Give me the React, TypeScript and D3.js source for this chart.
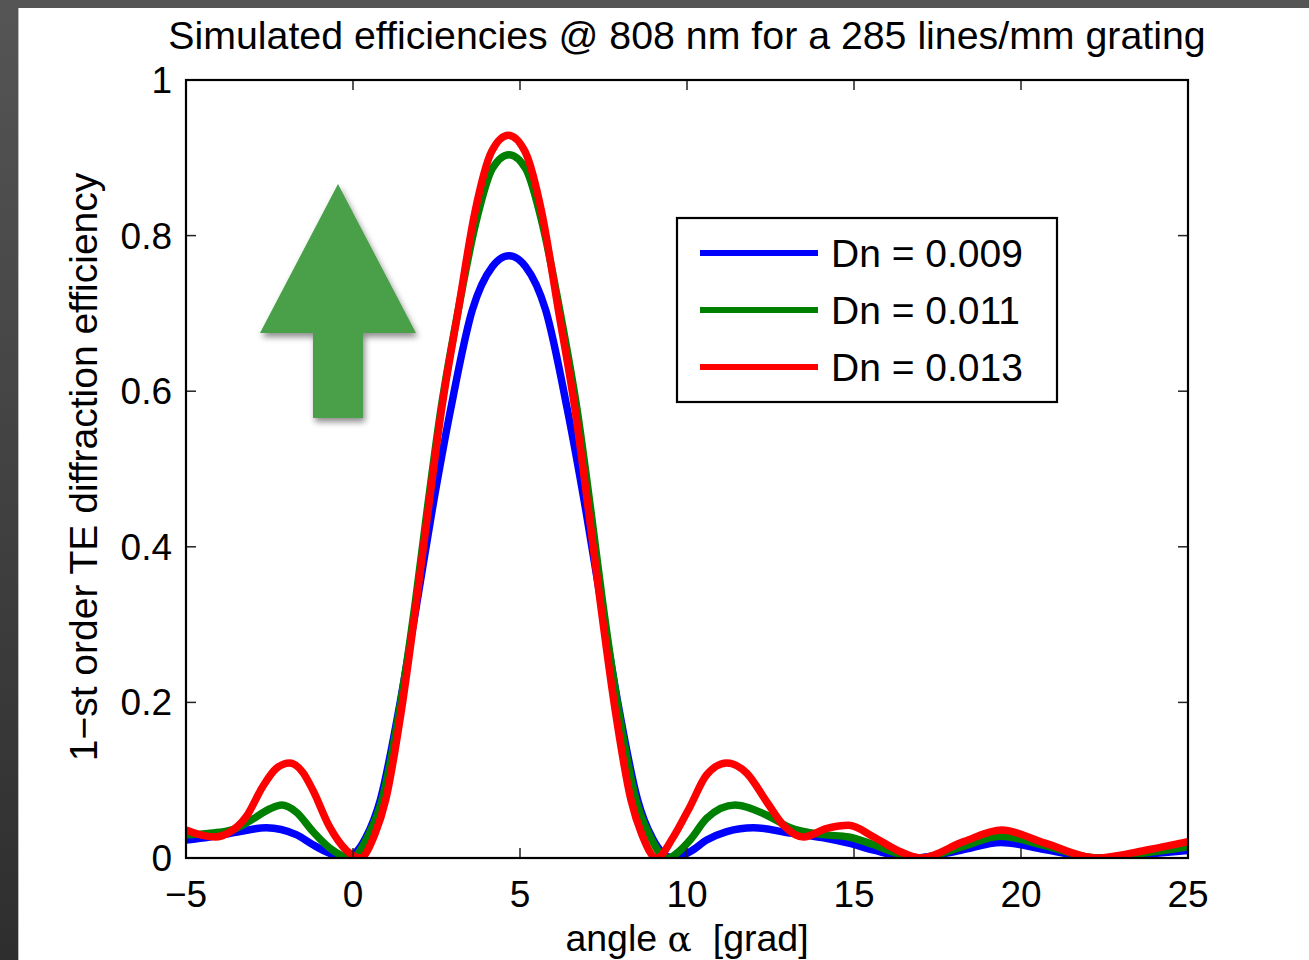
import React from "react";
import * as d3 from "d3";

const TITLE = "Simulated efficiencies @ 808 nm for a 285 lines/mm grating";
const X_TICKS = [-5, 0, 5, 10, 15, 20, 25];
const Y_TICKS = [0, 0.2, 0.4, 0.6, 0.8, 1];
const Y_TICK_LABELS = ["0", "0.2", "0.4", "0.6", "0.8", "1"];
const X_TICK_LABELS = ["\u22125", "0", "5", "10", "15", "20", "25"];
const LEGEND_LABELS = ["Dn = 0.009", "Dn = 0.011", "Dn = 0.013"];
const COLORS = ["#0000ff", "#008000", "#ff0000"];

// [angle, efficiency]
const DN009: [number, number][] = [
  [-5, 0.023], [-4.3, 0.027], [-3.5, 0.033], [-2.6, 0.039], [-1.7, 0.03], [-1.2, 0.017],
  [-0.7, 0.006], [-0.23, 0], [0.37, 0.025], [0.82, 0.075], [1.37, 0.19], [1.92, 0.33],
  [2.37, 0.447], [2.92, 0.576], [3.57, 0.704], [4.17, 0.76], [4.67, 0.774], [5.17, 0.76],
  [5.77, 0.704], [6.42, 0.576], [6.97, 0.447], [7.42, 0.33], [7.97, 0.19], [8.52, 0.075],
  [8.97, 0.025], [9.57, 0], [10.09, 0.008], [10.59, 0.023], [11.19, 0.034], [11.99, 0.039],
  [13.09, 0.032], [14.09, 0.026], [14.84, 0.019], [15.59, 0.01], [16.8, 0], [18.2, 0.01],
  [19.4, 0.02], [20.7, 0.011], [22.3, 0], [23.8, 0.005], [25, 0.0095],
];
const DN011: [number, number][] = [
  [-5, 0.03], [-4.5, 0.031], [-4.0, 0.033], [-3.5, 0.038], [-3.0, 0.05], [-2.5, 0.063],
  [-2.13, 0.068], [-1.7, 0.059], [-1.2, 0.034], [-0.7, 0.013], [-0.05, 0], [0.47, 0.03],
  [0.87, 0.075], [1.39, 0.19], [1.87, 0.33], [2.22, 0.447], [2.63, 0.576], [3.15, 0.704],
  [3.67, 0.815], [4.17, 0.886], [4.67, 0.904], [5.17, 0.886], [5.67, 0.815], [6.19, 0.704],
  [6.71, 0.576], [7.12, 0.447], [7.47, 0.33], [7.95, 0.19], [8.47, 0.075], [8.87, 0.03],
  [9.39, 0], [10.09, 0.023], [10.59, 0.051], [11.44, 0.068], [12.39, 0.055], [13.09, 0.039],
  [14.09, 0.03], [14.84, 0.027], [15.59, 0.017], [16.3, 0.006], [17.0, 0], [18.2, 0.014],
  [19.4, 0.028], [20.7, 0.016], [22.3, 0], [23.8, 0.007], [25, 0.0145],
];
const DN013: [number, number][] = [
  [-5, 0.036], [-4.6, 0.03], [-4.13, 0.027], [-3.7, 0.033], [-3.2, 0.053], [-2.7, 0.092],
  [-2.3, 0.115], [-1.9, 0.122], [-1.5, 0.11], [-1.2, 0.087], [-0.7, 0.04], [-0.2, 0.01],
  [0.21, 0], [0.65, 0.03], [0.98, 0.075], [1.45, 0.19], [1.9, 0.33], [2.25, 0.447],
  [2.65, 0.576], [3.15, 0.704], [3.65, 0.83], [4.15, 0.908], [4.65, 0.929], [5.15, 0.908],
  [5.65, 0.83], [6.15, 0.704], [6.65, 0.576], [7.05, 0.447], [7.4, 0.33], [7.85, 0.19],
  [8.32, 0.075], [8.65, 0.03], [9.09, 0], [9.59, 0.027], [10.09, 0.066], [10.59, 0.107],
  [11.19, 0.122], [11.79, 0.109], [12.39, 0.072], [12.89, 0.042], [13.49, 0.027],
  [14.19, 0.038], [14.84, 0.042], [15.59, 0.027], [16.29, 0.01], [17.0, 0], [18.28, 0.021],
  [19.42, 0.036], [20.72, 0.019], [22.25, 0], [23.85, 0.011], [25, 0.021],
];
const SERIES = [DN009, DN011, DN013];

const W = 1309;
const H = 960;
const PL = 186, PR = 1188, PT = 80, PB = 858;
const FONT = "'Liberation Sans', Arial, Helvetica, sans-serif";

export default function App() {
  const x = d3.scaleLinear().domain([-5, 25]).range([PL, PR]);
  const y = d3.scaleLinear().domain([0, 1]).range([PB, PT]);
  const line = d3
    .line<[number, number]>()
    .x((d) => x(d[0]))
    .y((d) => y(d[1]))
    .curve(d3.curveMonotoneX);

  const tickLen = 10;
  const arrow = [
    [338, 184], [416, 333], [363, 333], [363, 418], [313, 418], [313, 333], [260, 333],
  ];

  return (
    <svg
      width={W}
      height={H}
      style={{ position: "absolute", left: 0, top: 0, background: "#fff" }}
      fontFamily={FONT}
    >
      <defs>
        <linearGradient id="leftband" x1="0" y1="0" x2="0" y2="1">
          <stop offset="0" stopColor="#555" />
          <stop offset="1" stopColor="#2e2e2e" />
        </linearGradient>
        <clipPath id="plotclip">
          <rect x={PL} y={PT - 10} width={PR - PL} height={PB - PT + 10} />
        </clipPath>
        <filter id="shadow" x="-30%" y="-30%" width="160%" height="160%">
          <feDropShadow dx="2" dy="4" stdDeviation="3" floodColor="#000" floodOpacity="0.45" />
        </filter>
      </defs>
      <rect x={0} y={0} width={W} height={H} fill="#fff" />
      <rect x={0} y={0} width={W} height={8} fill="#555" />
      <rect x={0} y={0} width={18} height={H} fill="url(#leftband)" />
      <rect x={18} y={8} width={1} height={H} fill="#bbb" />

      {/* title */}
      <text x={(PL + PR) / 2} y={49} fontSize={39.3} textAnchor="middle" fill="#000">
        {TITLE}
      </text>

      {/* curves */}
      <g clipPath="url(#plotclip)">
        {SERIES.map((s, i) => (
          <path
            key={i}
            d={line(s) || ""}
            fill="none"
            stroke={COLORS[i]}
            strokeWidth={7.5}
            strokeLinejoin="round"
          />
        ))}
      </g>

      {/* ticks */}
      {X_TICKS.map((t, i) => (
        <g key={"xt" + i}>
          <line x1={x(t)} x2={x(t)} y1={PB} y2={PB - tickLen} stroke="#222" strokeWidth={1.5} />
          <line x1={x(t)} x2={x(t)} y1={PT} y2={PT + tickLen} stroke="#222" strokeWidth={1.5} />
          <text x={x(t)} y={907} fontSize={37} textAnchor="middle" fill="#000">
            {X_TICK_LABELS[i]}
          </text>
        </g>
      ))}
      {Y_TICKS.map((t, i) => (
        <g key={"yt" + i}>
          <line x1={PL} x2={PL + tickLen} y1={y(t)} y2={y(t)} stroke="#222" strokeWidth={1.5} />
          <line x1={PR} x2={PR - tickLen} y1={y(t)} y2={y(t)} stroke="#222" strokeWidth={1.5} />
          <text x={172} y={y(t) + 13} fontSize={37} textAnchor="end" fill="#000">
            {Y_TICK_LABELS[i]}
          </text>
        </g>
      ))}

      {/* frame */}
      <rect x={PL} y={PT} width={PR - PL} height={PB - PT} fill="none" stroke="#000" strokeWidth={2.2} />

      {/* axis labels */}
      <text
        x={(PL + PR) / 2}
        y={951}
        fontSize={37.5}
        textAnchor="middle"
        fill="#000"
        style={{ whiteSpace: "pre" }}
      >
        {"angle "}
        <tspan fontFamily="'DejaVu Serif', 'Liberation Serif', serif" fontSize={36}>{"\u03b1"}</tspan>
        {"  [grad]"}
      </text>
      <text
        transform={`translate(97, 467) rotate(-90)`}
        x={0}
        y={0}
        fontSize={39}
        textAnchor="middle"
        fill="#000"
      >
        1{"\u2212"}st order TE diffraction efficiency
      </text>

      {/* legend */}
      <rect x={677} y={218} width={380} height={184} fill="#fff" stroke="#000" strokeWidth={2.2} />
      {LEGEND_LABELS.map((lab, i) => (
        <g key={"lg" + i}>
          <line x1={700} x2={818} y1={253 + i * 57} y2={253 + i * 57} stroke={COLORS[i]} strokeWidth={6} />
          <text x={831} y={267 + i * 57} fontSize={39} fill="#000">
            {lab}
          </text>
        </g>
      ))}

      {/* arrow */}
      <polygon
        points={arrow.map((p) => p.join(",")).join(" ")}
        fill="#48a048"
        filter="url(#shadow)"
      />
    </svg>
  );
}
